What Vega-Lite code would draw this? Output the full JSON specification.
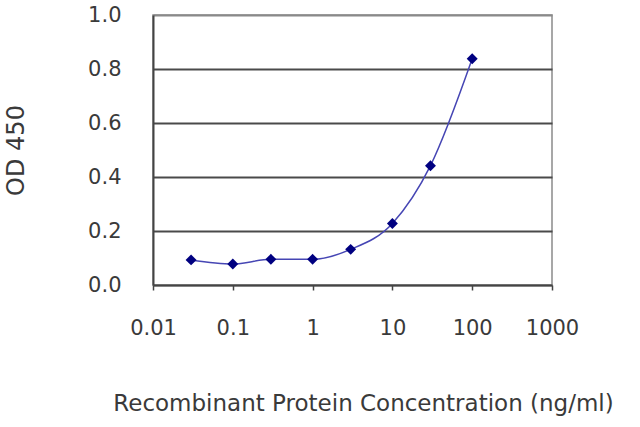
{
  "$schema": "https://vega.github.io/schema/vega-lite/v6.json",
  "autosize": {"type": "none"},
  "padding": {"left": 153, "top": 15, "right": 88, "bottom": 142},
  "width": 399,
  "height": 270,
  "background": "white",
  "config": {
    "view": {"stroke": "#8a8a8a", "strokeWidth": 1.5},
    "font": "DejaVu Sans"
  },
  "data": {
    "values": [
      {"conc": 0.03, "od": 0.093},
      {"conc": 0.1, "od": 0.078},
      {"conc": 0.3, "od": 0.095},
      {"conc": 1, "od": 0.095},
      {"conc": 3, "od": 0.132},
      {"conc": 10, "od": 0.228},
      {"conc": 30, "od": 0.442},
      {"conc": 100, "od": 0.838}
    ]
  },
  "encoding": {
    "x": {
      "field": "conc",
      "type": "quantitative",
      "scale": {"type": "log", "domain": [0.01, 1000], "nice": false},
      "axis": {
        "title": "Recombinant Protein Concentration (ng/ml)",
        "values": [0.01, 0.1, 1, 10, 100, 1000],
        "format": "~g",
        "grid": false,
        "labelFlush": false,
        "labelOverlap": false,
        "domainColor": "#444",
        "domainWidth": 2,
        "tickColor": "#444",
        "tickWidth": 1.5,
        "tickSize": 5,
        "labelFontSize": 21,
        "labelColor": "#3a3a3a",
        "labelPadding": 27,
        "labelFont": "DejaVu Sans",
        "titleFont": "DejaVu Sans",
        "titleFontSize": 23,
        "titleFontWeight": "normal",
        "titleColor": "#3a3a3a",
        "titlePadding": 54,
        "titleX": 210,
        "titleAlign": "center"
      }
    },
    "y": {
      "field": "od",
      "type": "quantitative",
      "scale": {"domain": [0, 1], "nice": false},
      "axis": {
        "title": "OD 450",
        "values": [0, 0.2, 0.4, 0.6, 0.8, 1.0],
        "format": ".1f",
        "grid": true,
        "gridColor": {"condition": {"test": "datum.value >= 1 || datum.value <= 0", "value": "#8a8a8a"}, "value": "#4a4a4a"},
        "gridWidth": 2.2,
        "domainColor": "#444",
        "domainWidth": 2,
        "tickSize": 0,
        "labelFontSize": 21,
        "labelColor": "#3a3a3a",
        "labelPadding": 32,
        "labelFont": "DejaVu Sans",
        "titleFont": "DejaVu Sans",
        "titleFontSize": 24,
        "titleFontWeight": "normal",
        "titleColor": "#3a3a3a",
        "titlePadding": 59
      }
    }
  },
  "layer": [
    {
      "mark": {"type": "line", "interpolate": "monotone", "color": "#4646b4", "strokeWidth": 1.5}
    },
    {
      "mark": {"type": "point", "shape": "diamond", "filled": true, "size": 120, "color": "#000080", "opacity": 1}
    }
  ]
}
